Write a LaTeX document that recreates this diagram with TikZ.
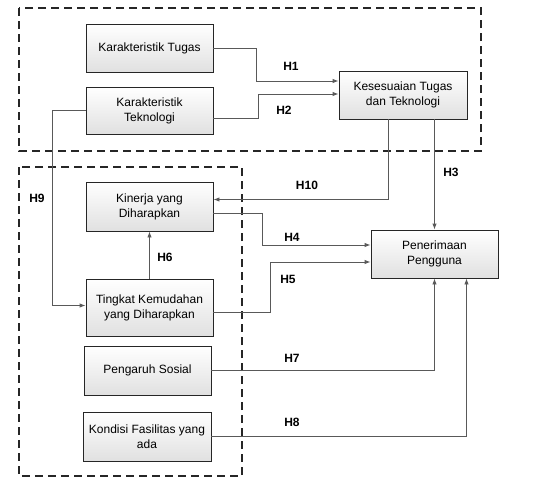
\documentclass[tikz,border=0pt]{standalone}
\usepackage{fontspec}
\setsansfont{Liberation Sans}
\usetikzlibrary{arrows.meta,shadows}
\begin{document}
\begin{tikzpicture}[x=1pt,y=-1pt,
    var/.style={draw=black!85,line width=0.9pt,top color=white,bottom color=black!12,
      drop shadow={shadow xshift=1.2pt,shadow yshift=-1.2pt,fill=black!45},
      align=center,font=\sffamily\fontsize{12}{15}\selectfont,inner sep=2pt},
    hyp/.style={font=\sffamily\bfseries\fontsize{12}{14}\selectfont},
    link/.style={draw=black!65,line width=0.9pt},
    arr/.style={link,-{Latex[length=6pt,width=4.5pt]}},
    grp/.style={draw=black!85,line width=1.1pt,dash pattern=on 8pt off 5pt}]
  \useasboundingbox (0,0) rectangle (542,490);
  % dashed groups
  \draw[grp] (19,8) rectangle (481,151);
  \draw[grp] (19,167) rectangle (242,476);
  % variables
  \node[var,minimum width=127pt,minimum height=48pt] (kt) at (149.5,48) {Karakteristik Tugas};
  \node[var,minimum width=127pt,minimum height=47pt] (ktek) at (149.5,110.5) {Karakteristik\\Teknologi};
  \node[var,minimum width=128pt,minimum height=48pt] (kes) at (403,95) {Kesesuaian Tugas\\dan Teknologi};
  \node[var,minimum width=127pt,minimum height=49pt] (kin) at (149.5,206.5) {Kinerja yang\\Diharapkan};
  \node[var,minimum width=127pt,minimum height=57pt] (ting) at (149.5,307.5) {Tingkat Kemudahan\\yang Diharapkan};
  \node[var,minimum width=127pt,minimum height=49pt] (sos) at (147.5,370.5) {Pengaruh Sosial};
  \node[var,minimum width=128pt,minimum height=49pt] (kon) at (147,436.5) {Kondisi Fasilitas yang\\ada};
  \node[var,minimum width=127pt,minimum height=48pt] (pen) at (434.5,254) {Penerimaan\\Pengguna};
  % hypotheses
  \node[hyp] (h1) at (291,66) {H1};
  \node[hyp] (h2) at (284,110) {H2};
  \node[hyp] (h3) at (451,172) {H3};
  \node[hyp] (h10) at (307,185) {H10};
  \node[hyp] (h4) at (292,237) {H4};
  \node[hyp] (h5) at (288,279) {H5};
  \node[hyp] (h6) at (165,257) {H6};
  \node[hyp] (h7) at (292,358) {H7};
  \node[hyp] (h8) at (292,422) {H8};
  \node[hyp] (h9) at (37,198) {H9};
  \begin{scope}
    \draw[arr] (kt.east) -- ++(43,0) |- ([yshift=14pt]kes.west);
    \draw[arr] ([yshift=-8pt]ktek.east) -- ++(45,0) |- ([yshift=1pt]kes.west);
    \draw[arr] (kes.south -| pen.north) -- (pen.north);
    \draw[arr] ([xshift=-15pt]kes.south) |- ([yshift=7pt]kin.east);
    \draw[arr] ([yshift=-6.5pt]kin.east) -- ++(49,0) |- ([yshift=9pt]pen.west);
    \draw[arr] ([yshift=-4.5pt]ting.east) -- ++(57,0) |- ([yshift=-8pt]pen.west);
    \draw[arr] (ting.north) -- (kin.south);
    \draw[arr] (sos.east) -| (pen.south);
    \draw[arr] (kon.east) -| ([xshift=32pt]pen.south);
    \draw[arr] (ktek.west) -- ++(-33,0) |- ([yshift=2pt]ting.west);
  \end{scope}
\end{tikzpicture}
\end{document}
